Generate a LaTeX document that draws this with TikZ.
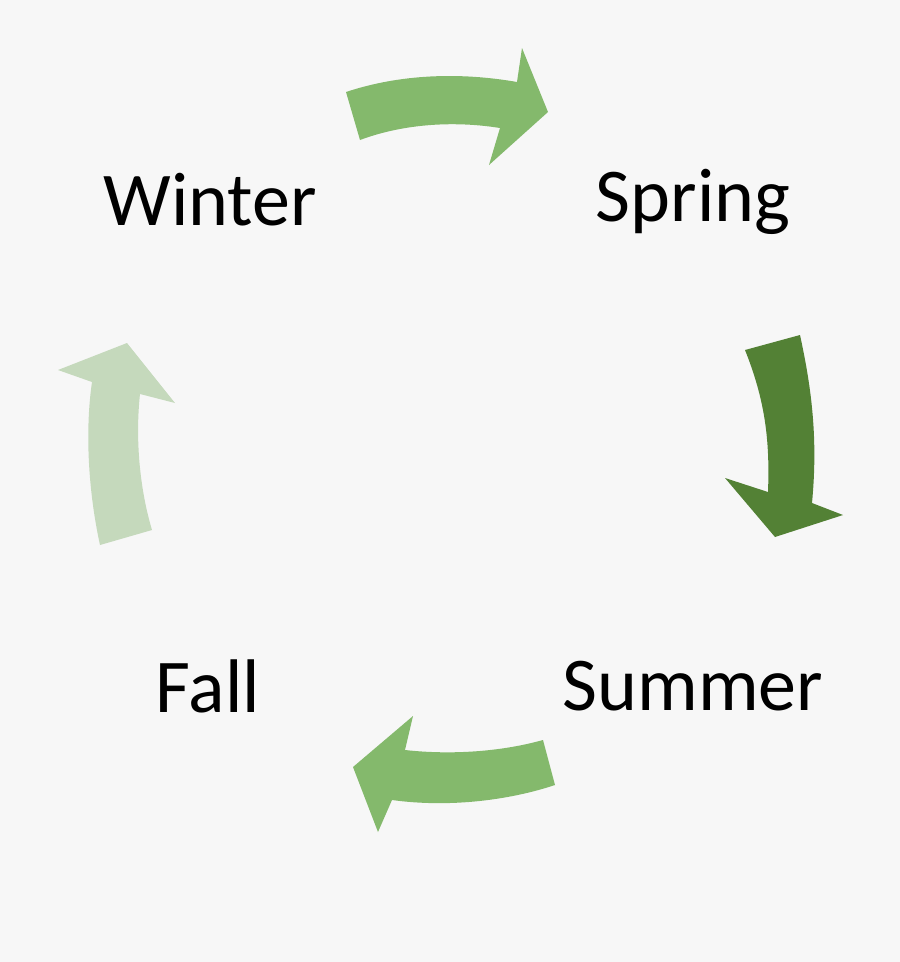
\documentclass[tikz,border=0pt]{standalone}
\usepackage{fontspec}
\setmainfont{Carlito}
\definecolor{bg}{RGB}{247,247,247}
\definecolor{midg}{RGB}{132,185,108}
\definecolor{darkg}{RGB}{83,129,53}
\definecolor{lightg}{RGB}{197,217,188}
\begin{document}
\begin{tikzpicture}[x=1pt,y=-1pt,
  lbl/.style={font=\fontsize{76}{80}\selectfont, text=black, anchor=center}]
\fill[bg] (0,0) rectangle (900,962);
\useasboundingbox (0,0) rectangle (900,962);
% top arrow
\fill[midg] (346,92) .. controls (400,74) and (460,72) .. (517,82) -- (522,48) -- (548,112) -- (489,165) -- (500,128) .. controls (450,120) and (400,125) .. (360,140) -- cycle;
% right arrow
\fill[darkg] (745,350) .. controls (765,400) and (770,440) .. (768,492) -- (725,478) -- (775,537) -- (843,515) -- (812,503) .. controls (818,440) and (812,390) .. (800,335) -- cycle;
% bottom arrow
\fill[midg] (543,740) .. controls (500,752) and (450,755) .. (405,750) -- (413,716) -- (353,767) -- (378,832) -- (392,800) .. controls (450,808) and (510,800) .. (555,785) -- cycle;
% left arrow
\fill[lightg] (100,545) .. controls (88,490) and (85,430) .. (92,382) -- (58,370) -- (127,343) -- (175,403) -- (140,394) .. controls (135,440) and (140,490) .. (152,530) -- cycle;
\node[lbl] (winter) at (210,200) {Winter};
\node[lbl] (spring) at (693,202) {Spring};
\node[lbl] (summer) at (693,686) {Summer};
\node[lbl] (fall) at (208,686) {Fall};
\end{tikzpicture}
\end{document}
